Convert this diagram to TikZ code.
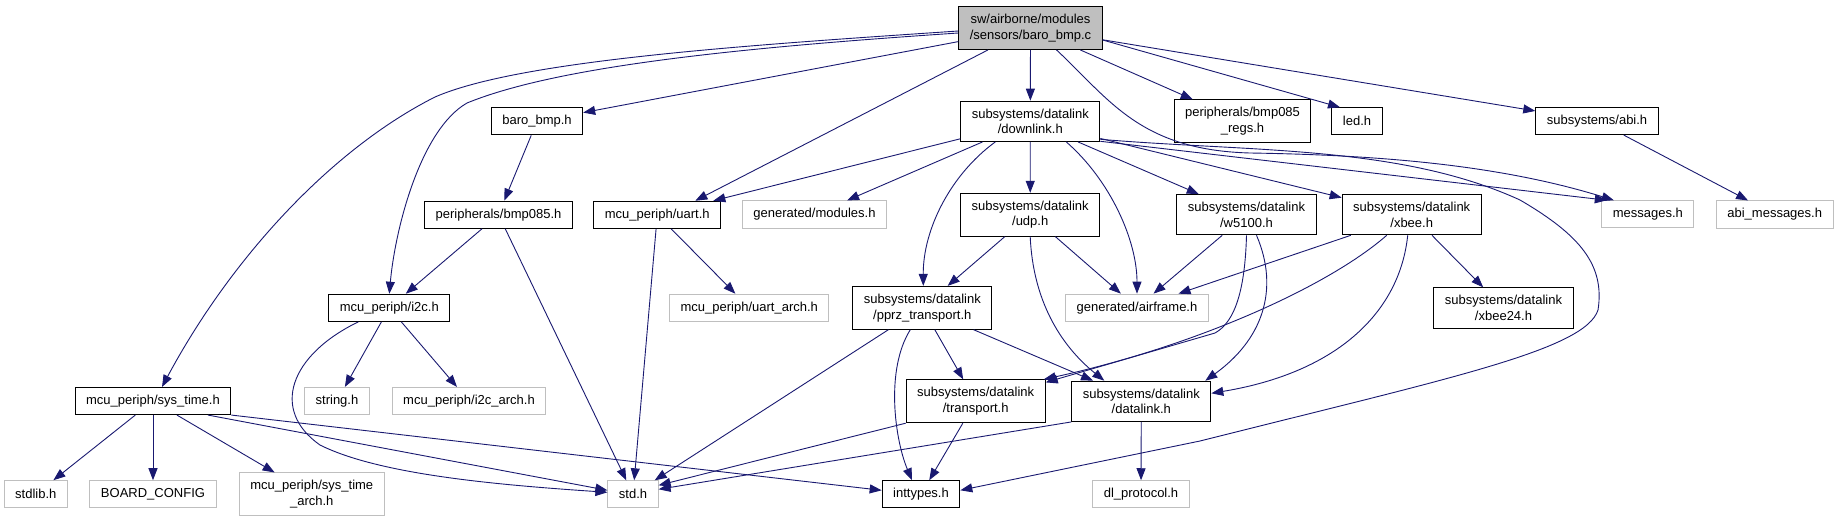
\documentclass[tikz,border=0pt]{standalone}
\usepackage{fontspec}
\setmainfont{Liberation Sans}
\usetikzlibrary{arrows.meta}

\definecolor{edgeblue}{HTML}{191970}
\definecolor{extgray}{HTML}{BFBFBF}

\begin{document}
\begin{tikzpicture}[
  x=1pt, y=-1pt,
  hdr/.style={
    draw=black,
    line width=1pt,
    align=center,
    inner xsep=11pt,
    inner ysep=7.5pt,
    minimum height=27pt,
    font=\fontsize{13}{15.7}\selectfont
  },
  ext/.style={hdr, draw=extgray},
  root/.style={hdr, fill=extgray},
  dep/.style={-{Triangle[length=12pt,width=9pt]}, draw=edgeblue, line width=0.9pt}
]
\useasboundingbox (0,0) rectangle (1837,523);

% Source file
\node[root] (rc) at (1030.5,28) {sw/airborne/modules\\/sensors/baro\_bmp.c};

% Level 1
\node[hdr] (bbh)   at (537,121.3)    {baro\_bmp.h};
\node[hdr] (dl)    at (1030.3,121.3) {subsystems/datalink\\/downlink.h};
\node[hdr] (bregs) at (1242.5,121.3) {peripherals/bmp085\\\_regs.h};
\node[hdr] (led)   at (1357,121.3)   {led.h};
\node[hdr] (abi)   at (1597,121)     {subsystems/abi.h};

% Level 2
\node[hdr] (bmp)    at (498.5,214.7)  {peripherals/bmp085.h};
\node[hdr] (uart)   at (657.3,214.8)  {mcu\_periph/uart.h};
\node[ext] (mods)   at (814.5,214.5)  {generated/modules.h};
\node[hdr] (udp)    at (1030.2,214.7) {subsystems/datalink\\/udp.h};
\node[hdr] (w5100)  at (1246.5,214.7) {subsystems/datalink\\/w5100.h};
\node[hdr] (xbee)   at (1411.7,214.7) {subsystems/datalink\\/xbee.h};
\node[ext] (msgs)   at (1647.8,214.3) {messages.h};
\node[ext] (abimsg) at (1774.7,214.5) {abi\_messages.h};

% Level 3
\node[hdr] (i2c)   at (389.3,307.8) {mcu\_periph/i2c.h};
\node[ext] (uarch) at (749.3,307.8) {mcu\_periph/uart\_arch.h};
\node[hdr] (pprz)  at (922.3,307.8) {subsystems/datalink\\/pprz\_transport.h};
\node[ext] (airf)  at (1137,307.7)  {generated/airframe.h};
\node[hdr] (xb24)  at (1503.5,308)  {subsystems/datalink\\/xbee24.h};

% Level 4
\node[hdr] (systime) at (153,401)    {mcu\_periph/sys\_time.h};
\node[ext] (str)     at (337,401)    {string.h};
\node[ext] (i2carch) at (469,401)    {mcu\_periph/i2c\_arch.h};
\node[hdr] (trans)   at (975.7,401.3)  {subsystems/datalink\\/transport.h};
\node[hdr] (dlk)     at (1141.3,401.3) {subsystems/datalink\\/datalink.h};

% Level 5
\node[ext] (stdlib) at (35.8,494.2)  {stdlib.h};
\node[ext] (board)  at (153,494.2)   {BOARD\_CONFIG};
\node[ext] (starch) at (311.8,494.3) {mcu\_periph/sys\_time\\\_arch.h};
\node[ext] (std)    at (633,494.3)   {std.h};
\node[hdr] (intt)   at (921,494.3)   {inttypes.h};
\node[ext] (dlp)    at (1141,494.3)  {dl\_protocol.h};

% Includes of the source file
\draw[dep] ([yshift=-3pt]rc.west) .. controls (750,45) and (520,60) .. (435,97)
  .. controls (330,150) and (230,260) .. ([xshift=9pt]systime.north);
\draw[dep] ([yshift=-5pt]rc.west) .. controls (750,47) and (560,65) .. (467,103)
  .. controls (420,130) and (395,230) .. (i2c.north);
\draw[dep] (rc) -- (bbh);
\draw[dep] (rc) -- ([xshift=38pt]uart.north);
\draw[dep] (rc) -- (dl);
\draw[dep] (rc) -- (bregs);
\draw[dep] ([yshift=-12pt]rc.east) -- ([xshift=-17pt]led.north);
\draw[dep] (rc) -- (abi);
\draw[dep] ([xshift=26pt]rc.south) .. controls (1110,100) and (1140,150) .. (1250,153)
  .. controls (1380,155) and (1500,165) .. ([xshift=-34pt]msgs.north);

% downlink.h
\draw[dep] (dl) -- (uart);
\draw[dep] (dl) -- (mods);
\draw[dep] ([xshift=-35pt]dl.south) .. controls (950,175) and (923,230) .. ([xshift=1pt]pprz.north);
\draw[dep] (dl) -- (udp);
\draw[dep] ([xshift=36pt]dl.south) .. controls (1110,180) and (1137,240) .. (airf.north);
\draw[dep] (dl) -- (w5100);
\draw[dep] (dl) -- (xbee);
\draw[dep] ([yshift=-20pt]dl.east) -- ([xshift=-41pt]msgs.north);
\draw[dep] ([yshift=-18pt]dl.east) .. controls (1250,152) and (1400,145) .. (1520,200)
  .. controls (1580,235) and (1605,265) .. (1598,310)
  .. controls (1585,350) and (1450,378) .. (1200,441) -- ([yshift=4pt]intt.east);

% udp.h, w5100.h, xbee.h
\draw[dep] (udp) -- (pprz);
\draw[dep] (udp.south) .. controls (1033,300) and (1060,345) .. ([xshift=-37pt]dlk.north);
\draw[dep] (udp) -- (airf);
\draw[dep] (w5100) -- (airf);
\draw[dep] (w5100.south) .. controls (1245,290) and (1235,322) .. (1215,333)
  -- ([yshift=-3pt]trans.north east);
\draw[dep] ([xshift=10pt]w5100.south) .. controls (1280,290) and (1262,340) .. ([xshift=-6pt]dlk.north east);
\draw[dep] (xbee) -- (airf);
\draw[dep] ([xshift=-25pt]xbee.south) .. controls (1330,285) and (1200,345) .. ([xshift=-2pt]trans.north east);
\draw[dep] ([xshift=-4pt]xbee.south) .. controls (1400,310) and (1340,372) .. ([yshift=8pt]dlk.east);
\draw[dep] (xbee) -- (xb24);

% pprz_transport.h, transport.h, datalink.h
\draw[dep] (pprz) -- (std);
\draw[dep] ([xshift=-12pt]pprz.south) .. controls (885,370) and (895,440) .. ([xshift=-9pt]intt.north);
\draw[dep] (pprz) -- (trans);
\draw[dep] (pprz) -- (dlk);
\draw[dep] (trans.south west) -- ([yshift=9pt]std.east);
\draw[dep] (trans) -- (intt);
\draw[dep] (dlk.south west) -- ([yshift=5pt]std.east);
\draw[dep] (dlk) -- (dlp);

% Left branch
\draw[dep] (bbh) -- (bmp);
\draw[dep] (bmp) -- (i2c);
\draw[dep] (bmp) -- (std);
\draw[dep] (uart) -- (std);
\draw[dep] (uart) -- (uarch);
\draw[dep] (i2c) -- (str);
\draw[dep] (i2c) -- (i2carch);
\draw[dep] ([xshift=-31pt]i2c.south) .. controls (290,355) and (270,410) .. (320,445)
  .. controls (380,475) and (500,485) .. ([yshift=2pt]std.west);
\draw[dep] (systime) -- (stdlib);
\draw[dep] (systime) -- (board);
\draw[dep] (systime) -- (starch);
\draw[dep] ([xshift=55pt]systime.south) -- ([yshift=4pt]std.west);
\draw[dep] (systime.south east) -- ([yshift=4pt]intt.west);

% abi.h
\draw[dep] (abi) -- (abimsg);

\end{tikzpicture}
\end{document}
